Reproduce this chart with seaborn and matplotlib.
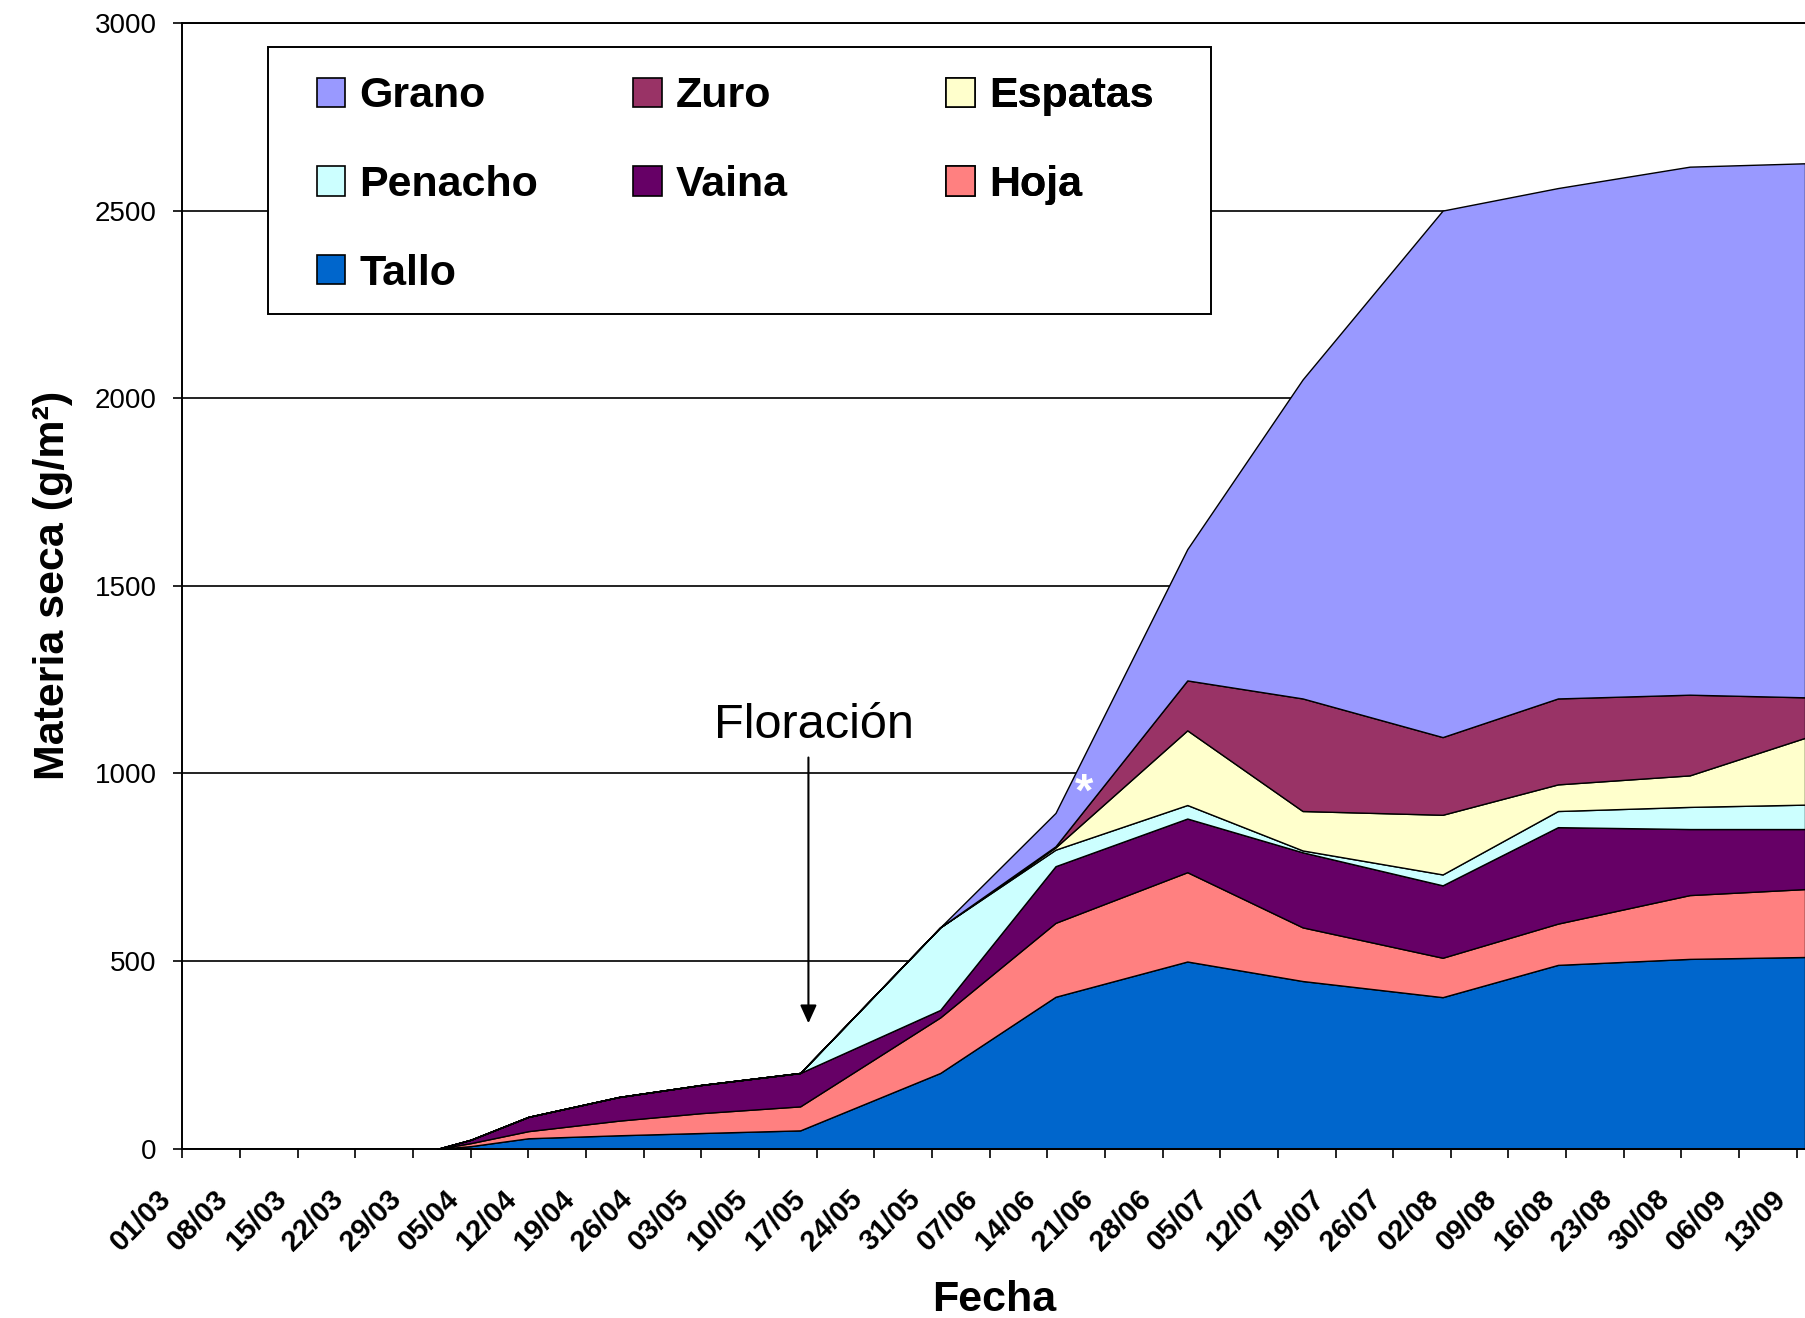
import numpy as np
import pandas as pd
import seaborn as sns
import matplotlib.pyplot as plt
import matplotlib.dates as mdates
from matplotlib.patches import Patch, Rectangle
from matplotlib.transforms import ScaledTranslation


# sampling dates (dd/mm) and dry matter of each organ (g/m2)
fechas = ['01/04', '05/04', '12/04', '23/04', '03/05', '15/05', '01/06',
          '15/06', '01/07', '15/07', '01/08', '15/08', '31/08', '14/09']
tallo = [0, 7, 28, 36, 42, 49, 202, 405, 499, 447, 404, 490, 506, 511]
hoja = [0, 8, 19, 39, 53, 64, 148, 197, 238, 143, 105, 110, 170, 181]
vaina = [0, 9, 38, 63, 75, 89, 20, 151, 143, 200, 193, 257, 176, 160]
penacho = [0, 0, 0, 0, 0, 0, 220, 44, 36, 5, 29, 43, 59, 65]
espatas = [0, 0, 0, 0, 0, 0, 0, 6, 199, 105, 159, 71, 84, 178]
zuro = [0, 0, 0, 0, 0, 0, 0, 3, 133, 300, 207, 229, 215, 108]
grano = [0, 0, 0, 0, 0, 0, 0, 89, 350, 850, 1403, 1360, 1407, 1423]

organos = ['Tallo', 'Hoja', 'Vaina', 'Penacho', 'Espatas', 'Zuro', 'Grano']
colores = ['#0066CC', '#FF8080', '#660066', '#CCFFFF', '#FFFFCC', '#993366', '#9999FF']

floracion = '16/05'
anio = 2007

sns.set_style('ticks')
plt.rcParams['font.family'] = ['Liberation Sans', 'DejaVu Sans']
plt.rcParams.update({'text.color': 'black', 'axes.labelcolor': 'black',
                     'xtick.color': 'black', 'ytick.color': 'black'})

df = pd.DataFrame({'Tallo': tallo, 'Hoja': hoja, 'Vaina': vaina, 'Penacho': penacho,
                   'Espatas': espatas, 'Zuro': zuro, 'Grano': grano})
df.index = pd.to_datetime([f'{f}/{anio}' for f in fechas], format='%d/%m/%Y')

fig = plt.figure(figsize=(18.05, 13.18), dpi=100)
ax = fig.add_axes([0.1011, 0.1284, 0.8989, 0.8542])

# stacked areas
ax.stackplot(df.index, [df[o] for o in organos], colors=colores,
             edgecolor='black', linewidth=1.0, zorder=2)

# axes
ax.set_ylim(0, 3000)
ax.set_yticks(np.arange(0, 3001, 500))
ax.set_xlim(pd.Timestamp(f'{anio}-03-01'), df.index[-1])
ax.set_xticks(pd.date_range(f'{anio}-03-01', f'{anio}-09-13', freq='7D'))
ax.xaxis.set_major_formatter(mdates.DateFormatter('%d/%m'))
ax.yaxis.grid(True, color='#222222', linewidth=1.4, zorder=0)
ax.set_axisbelow(True)
for side in ['left', 'bottom', 'top']:
    ax.spines[side].set_color('black')
    ax.spines[side].set_linewidth(1.4)
ax.spines['right'].set_visible(False)

ax.tick_params(axis='both', direction='out', length=6.5, width=1.2, color='black')
ax.tick_params(axis='y', labelsize=20, pad=12)
ax.tick_params(axis='x', labelsize=21, pad=8)
plt.setp(ax.get_xticklabels(), rotation=45, ha='right', rotation_mode='anchor',
         fontweight='bold')
# date labels sit a little left of and below their ticks
shift = ScaledTranslation(-0.26, -0.16, fig.dpi_scale_trans)
for lab in ax.get_xticklabels():
    lab.set_transform(lab.get_transform() + shift)

ax.set_ylabel('Materia seca (g/m²)', fontsize=31, fontweight='bold', labelpad=16)
ax.set_xlabel('Fecha', fontsize=31, fontweight='bold', labelpad=17)

# flowering annotation
f_date = pd.to_datetime(f'{floracion}/{anio}', format='%d/%m/%Y')
ax.annotate('', xy=(f_date, 327), xytext=(f_date, 1050),
            arrowprops=dict(arrowstyle='-|>,head_length=0.55,head_width=0.25',
                            color='black', lw=1.5, mutation_scale=20))
ax.text(f_date + pd.Timedelta(days=0.7), 1095, 'Floración', fontsize=35,
        ha='center', va='baseline')
ax.text(pd.Timestamp(f'{anio}-06-18 12:00'), 945, '*', color='white', fontsize=34,
        fontweight='bold', ha='center', va='center', zorder=4)

# legend: boxed, three columns laid out row by row
handles = {o: Patch(facecolor=c, edgecolor='black', linewidth=1.2)
           for o, c in zip(organos, colores)}
ax.add_patch(Rectangle((0.0527, 0.7415), 0.5812, 0.2372, transform=ax.transAxes,
                       facecolor='white', edgecolor='black', linewidth=1.4, zorder=3))
columnas = [['Grano', 'Penacho', 'Tallo'], ['Zuro', 'Vaina'], ['Espatas', 'Hoja']]
col_x = [0.0826, 0.2777, 0.4706]
for nombres, x in zip(columnas, col_x):
    leg = ax.legend([handles[n] for n in nombres], nombres, loc='upper left',
                    bbox_to_anchor=(x, 0.9525), frameon=False, borderpad=0,
                    borderaxespad=0, handlelength=0.67, handleheight=0.67,
                    handletextpad=0.33, labelspacing=1.13,
                    prop={'size': 31, 'weight': 'bold'})
    leg.set_zorder(5)
    ax.add_artist(leg)

fig.savefig('out.png', dpi=100)
